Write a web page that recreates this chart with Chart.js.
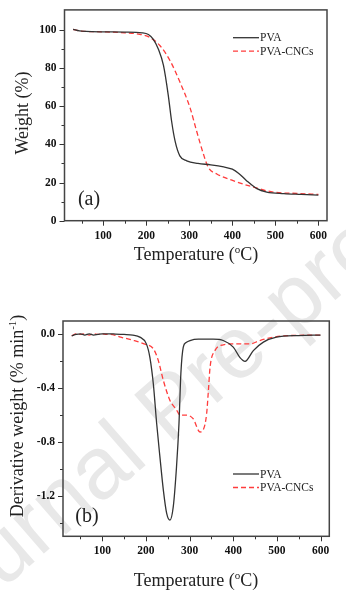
<!DOCTYPE html>
<html lang="en">
<head>
<meta charset="UTF-8">
<title>TGA and DTG curves of PVA and PVA-CNCs</title>
<script src="https://cdn.jsdelivr.net/npm/chart.js"></script>
<style>
  body { margin: 0; background: #fff; }
  #wrap { position: relative; width: 346px; height: 590px; overflow: hidden; }
  canvas { position: absolute; left: 0; }
  #tgaChart { top: 0; }
  #dtgChart { top: 290px; }
  /* faint journal watermark behind the plots */
  .watermark {
    position: absolute; left: 169px; top: 405px;
    transform: translate(-50%, -50%) rotate(-41deg);
    font: 88px 'Liberation Sans', sans-serif;
    color: #e8e8e8; white-space: nowrap;
  }
</style>
</head>
<body>
<div id="wrap">
  <div class="watermark">Journal Pre-proof</div>
  <canvas id="tgaChart" width="346" height="290"></canvas>
  <canvas id="dtgChart" width="346" height="300"></canvas>
</div>
<script>
// ---- data ----
const xTicks = [50, 100, 150, 200, 250, 300, 350, 400, 450, 500, 550, 600];
const tgaYTicks = [0, 10, 20, 30, 40, 50, 60, 70, 80, 90, 100];
const dtgYTicks = [0, -0.2, -0.4, -0.6, -0.8, -1.0, -1.2, -1.4];

// (a) weight (%) vs temperature
const pvaTgaTemp = [30, 45, 60, 100, 150, 190, 205, 216, 228, 240, 251, 259, 267, 278, 294, 320, 350, 380, 400, 415, 433, 457, 480, 520, 560, 600];
const pvaTgaWeight = [100.3, 99.5, 99.2, 99.0, 98.9, 98.5, 97.6, 95.2, 90.0, 81.4, 66.0, 52.0, 41.7, 34.0, 31.4, 30.0, 29.3, 28.2, 27.0, 24.8, 21.0, 16.8, 15.0, 14.2, 13.8, 13.4];
const cncTgaTemp = [30, 45, 60, 100, 150, 185, 209, 232, 255, 278, 302, 317, 333, 344, 364, 402, 449, 495, 550, 600];
const cncTgaWeight = [100.3, 99.5, 99.2, 99.0, 98.5, 97.7, 96.0, 91.7, 84.0, 72.8, 59.0, 47.0, 34.8, 28.0, 24.5, 21.0, 17.6, 15.0, 14.3, 13.8];

// (b) derivative weight (% min-1) vs temperature
const pvaDtgTemp = [30, 40, 50, 60, 70, 80, 90, 100, 110, 130, 150, 170, 186, 201, 209, 217, 224.5, 232, 240, 247.5, 255, 262.6, 270, 275.7, 280, 285.5, 292, 301, 320, 354, 377, 400, 415, 427, 446, 469, 499, 550, 600];
const pvaDtgDeriv = [-0.01, 0.0, 0.005, -0.005, 0.005, -0.005, 0.0, 0.005, 0.005, 0.003, 0.0, -0.005, -0.02, -0.07, -0.17, -0.37, -0.66, -0.91, -1.16, -1.33, -1.38, -1.28, -0.985, -0.66, -0.29, -0.094, -0.06, -0.045, -0.035, -0.035, -0.045, -0.094, -0.17, -0.20, -0.12, -0.057, -0.02, -0.008, -0.005];
const cncDtgTemp = [30, 40, 50, 60, 70, 80, 90, 100, 110, 119, 142, 172.6, 195.5, 216.8, 228, 239.7, 255, 270, 278, 293, 308, 323.8, 331, 339, 343, 347, 358, 377, 400, 438, 461, 492, 515, 600];
const cncDtgDeriv = [-0.01, 0.005, 0.0, 0.005, -0.005, 0.005, 0.0, 0.005, 0.0, 0.0, -0.02, -0.045, -0.07, -0.106, -0.19, -0.34, -0.49, -0.56, -0.60, -0.60, -0.626, -0.725, -0.71, -0.59, -0.42, -0.24, -0.12, -0.077, -0.07, -0.07, -0.045, -0.02, -0.01, -0.005];

const seriesNames = ['PVA', 'PVA-CNCs'];

// ---- styling ----
const SERIF = '"Liberation Serif", "Times New Roman", serif';
const blackLine = '#333333';
const redLine = '#ff3c3c';
const redDash = [5, 3];

const toPoints = (xs, ys) => xs.map((x, i) => ({ x: x, y: ys[i] }));

// text with a superscript piece, optionally rotated
function drawRich(ctx, parts, cx, cy, rotate) {
  ctx.save();
  ctx.translate(cx, cy);
  if (rotate) ctx.rotate(-Math.PI / 2);
  ctx.textBaseline = 'alphabetic';
  ctx.textAlign = 'left';
  let total = 0;
  parts.forEach(p => { ctx.font = p.size + 'px ' + SERIF; p.w = ctx.measureText(p.t).width; total += p.w; });
  let x = -total / 2;
  parts.forEach(p => {
    ctx.font = p.size + 'px ' + SERIF;
    ctx.fillText(p.t, x, 6 - (p.rise || 0));
    x += p.w;
  });
  ctx.restore();
}

const decoPlugin = {
  id: 'deco',
  afterDraw(chart, args, o) {
    const { ctx, chartArea: a, scales } = chart;
    ctx.save();
    ctx.strokeStyle = '#333';
    ctx.lineWidth = 1;
    // tick marks, major longer than minor
    xTicks.forEach(v => {
      const px = Math.round(scales.x.getPixelForValue(v)) + 0.5;
      const len = v % 100 === 0 ? 5 : 3;
      ctx.beginPath(); ctx.moveTo(px, a.bottom); ctx.lineTo(px, a.bottom + len); ctx.stroke();
    });
    o.yTicks.forEach(v => {
      const py = Math.round(scales.y.getPixelForValue(v)) + 0.5;
      const len = o.isMajor(v) ? 5 : 3;
      ctx.beginPath(); ctx.moveTo(a.left, py); ctx.lineTo(a.left - len, py); ctx.stroke();
    });
    // plot frame
    ctx.strokeStyle = '#444';
    ctx.lineWidth = 1.5;
    ctx.strokeRect(a.left, a.top, a.right - a.left, a.bottom - a.top);

    // legend
    ctx.lineWidth = 1.3;
    ctx.font = '11.5px ' + SERIF;
    ctx.fillStyle = '#222';
    ctx.textBaseline = 'middle';
    ctx.textAlign = 'left';
    [[blackLine, []], [redLine, redDash]].forEach((s, i) => {
      const ly = o.legendY + i * 13.5;
      ctx.strokeStyle = s[0];
      ctx.setLineDash(s[1]);
      ctx.beginPath(); ctx.moveTo(233, ly); ctx.lineTo(259, ly); ctx.stroke();
      ctx.setLineDash([]);
      ctx.fillText(seriesNames[i], 260, ly + 0.5);
    });

    // panel label
    ctx.font = '20px ' + SERIF;
    ctx.textAlign = 'center';
    ctx.fillText(o.panel, o.panelX, o.panelY);

    // axis titles
    ctx.fillStyle = '#222';
    drawRich(ctx, [{ t: 'Temperature (', size: 18 }, { t: 'o', size: 11, rise: 7 }, { t: 'C)', size: 18 }], o.xTitle[0], o.xTitle[1], false);
    drawRich(ctx, o.yTitleParts, o.yTitle[0], o.yTitle[1], true);
    ctx.restore();
  }
};

function makeOptions(cfg) {
  const tickFont = { family: SERIF, size: 11.5, weight: 'bold' };
  return {
    responsive: false,
    animation: false,
    layout: { padding: { top: cfg.padTop, right: cfg.padRight, left: 0, bottom: 0 } },
    elements: { point: { radius: 0 }, line: { borderWidth: 1.3, cubicInterpolationMode: 'monotone' } },
    plugins: { legend: { display: false }, tooltip: { enabled: false }, deco: cfg.deco },
    scales: {
      x: {
        type: 'linear', min: 10, max: 620,
        afterBuildTicks: s => { s.ticks = xTicks.map(v => ({ value: v })); },
        afterFit: s => { s.height = cfg.xAxisHeight; },
        grid: { drawOnChartArea: false, drawTicks: true, tickLength: 5, tickColor: 'rgba(0,0,0,0)' },
        border: { display: false },
        ticks: { font: tickFont, color: '#111', padding: 3, maxRotation: 0, autoSkip: false,
                 callback: v => (v % 100 === 0 ? String(v) : '') }
      },
      y: {
        type: 'linear', min: cfg.yMin, max: cfg.yMax,
        afterBuildTicks: s => { s.ticks = cfg.deco.yTicks.map(v => ({ value: v })); },
        afterFit: s => { s.width = cfg.yAxisWidth; },
        grid: { drawOnChartArea: false, drawTicks: true, tickLength: 5, tickColor: 'rgba(0,0,0,0)' },
        border: { display: false },
        ticks: { font: tickFont, color: '#111', padding: 3, autoSkip: false,
                 callback: cfg.yLabel }
      }
    }
  };
}

function datasets(pvaX, pvaY, cncX, cncY) {
  return [
    { label: seriesNames[0], data: toPoints(pvaX, pvaY), borderColor: blackLine, fill: false },
    { label: seriesNames[1], data: toPoints(cncX, cncY), borderColor: redLine, borderDash: redDash, fill: false }
  ];
}

new Chart(document.getElementById('tgaChart'), {
  type: 'line',
  data: { datasets: datasets(pvaTgaTemp, pvaTgaWeight, cncTgaTemp, cncTgaWeight) },
  options: makeOptions({
    padTop: 7.3, padRight: 19, yAxisWidth: 64.5, xAxisHeight: 290 - 220.7,
    yMin: 0, yMax: 110.5,
    yLabel: v => (v % 20 === 0 ? String(v) : ''),
    deco: {
      yTicks: tgaYTicks, isMajor: v => v % 20 === 0,
      legendY: 37.7, panel: '(a)', panelX: 89, panelY: 200,
      xTitle: [196, 254], yTitle: [22, 113],
      yTitleParts: [{ t: 'Weight (%)', size: 18 }]
    }
  }),
  plugins: [decoPlugin]
});

const isMajorDtg = v => Math.abs(Math.round(v / 0.4) * 0.4 - v) < 1e-6;
new Chart(document.getElementById('dtgChart'), {
  type: 'line',
  data: { datasets: datasets(pvaDtgTemp, pvaDtgDeriv, cncDtgTemp, cncDtgDeriv) },
  options: makeOptions({
    padTop: 31, padRight: 16.7, yAxisWidth: 63, xAxisHeight: 300 - 246.3,
    yMin: -1.5, yMax: 0.1,
    yLabel: v => (isMajorDtg(v) ? (Math.abs(v) < 1e-9 ? '0.0' : v.toFixed(1)) : ''),
    deco: {
      yTicks: dtgYTicks, isMajor: isMajorDtg,
      legendY: 184, panel: '(b)', panelX: 87, panelY: 227,
      xTitle: [196, 290], yTitle: [17, 126],
      yTitleParts: [{ t: 'Derivative weight (% min', size: 18 }, { t: '-1', size: 11, rise: 7 }, { t: ')', size: 18 }]
    }
  }),
  plugins: [decoPlugin]
});
</script>
</body>
</html>
